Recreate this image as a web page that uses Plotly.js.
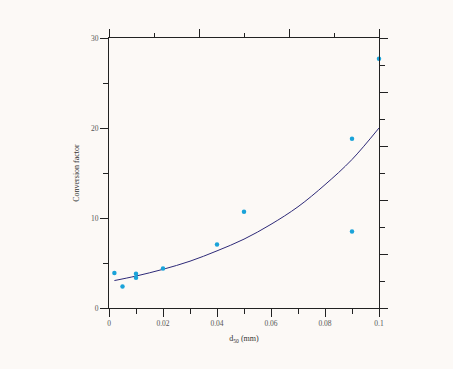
<!DOCTYPE html>
<html>
<head>
<meta charset="utf-8">
<script src="https://cdn.plot.ly/plotly-3.0.1.min.js"></script>
<style>html,body{margin:0;padding:0;background:#fcf9f6;}</style>
</head>
<body>
<div id="chart" style="width:453px;height:369px;"></div>
<script>
// Measured points: d50 (mm) vs conversion factor
const d50 = [0.002, 0.005, 0.01, 0.01, 0.02, 0.04, 0.05, 0.09, 0.09, 0.1];
const factor = [3.9, 2.4, 3.8, 3.35, 4.4, 7.05, 10.7, 18.8, 8.5, 27.7];

// Fitted curve
const curveX = [0.002, 0.01, 0.02, 0.03, 0.04, 0.05, 0.06, 0.07, 0.08, 0.09, 0.1];
const curveY = [3.05, 3.55, 4.3, 5.2, 6.35, 7.65, 9.3, 11.25, 13.7, 16.5, 20.0];

const xRange = [0, 0.1];
const yRange = [0, 30];

const axisColor = '#222';
const tickFont = {family: 'Liberation Serif, Times New Roman, serif', size: 7.5, color: '#555'};
const titleFont = {family: 'Liberation Serif, Times New Roman, serif', size: 8, color: '#333'};

const traces = [
  {
    x: curveX, y: curveY, type: 'scatter', mode: 'lines',
    line: {color: '#2e2a78', width: 1, shape: 'spline'},
    hoverinfo: 'skip', showlegend: false
  },
  {
    x: d50, y: factor, type: 'scatter', mode: 'markers',
    marker: {color: '#1aa3d9', size: 4.5},
    showlegend: false, cliponaxis: false
  },
  // empty trace so that the top/right frame axes are drawn
  {
    x: [null], y: [null], type: 'scatter', mode: 'markers',
    xaxis: 'x2', yaxis: 'y2', showlegend: false, hoverinfo: 'skip'
  }
];

const layout = {
  width: 453, height: 369,
  margin: {l: 109, r: 74, t: 38, b: 61},
  paper_bgcolor: '#fcf9f6',
  plot_bgcolor: '#fcf9f6',
  showlegend: false,
  xaxis: {
    range: xRange, dtick: 0.02, tick0: 0,
    ticks: 'outside', ticklen: 8, tickwidth: 1, tickcolor: axisColor,
    minor: {dtick: 0.01, ticks: 'outside', ticklen: 5, tickwidth: 1, tickcolor: axisColor, showgrid: false},
    showline: true, linecolor: axisColor, linewidth: 1,
    showgrid: false, zeroline: false, tickfont: tickFont,
    title: {text: 'd<sub>50</sub> (mm)', font: titleFont, standoff: 8}
  },
  yaxis: {
    range: yRange, dtick: 10, tick0: 0,
    ticks: 'outside', ticklen: 8, tickwidth: 1, tickcolor: axisColor,
    minor: {dtick: 5, ticks: 'outside', ticklen: 5, tickwidth: 1, tickcolor: axisColor, showgrid: false},
    showline: true, linecolor: axisColor, linewidth: 1,
    showgrid: false, zeroline: false, tickfont: tickFont,
    title: {text: 'Conversion factor', font: titleFont, standoff: 10}
  },
  xaxis2: {
    overlaying: 'x', side: 'top', anchor: 'y2', range: [0, 6], dtick: 2, tick0: 0,
    ticks: 'outside', ticklen: 8, tickwidth: 1, tickcolor: axisColor,
    minor: {dtick: 1, ticks: 'outside', ticklen: 4.5, tickwidth: 1, tickcolor: axisColor, showgrid: false},
    showline: true, linecolor: axisColor, linewidth: 1,
    showticklabels: false, showgrid: false, zeroline: false, fixedrange: true
  },
  yaxis2: {
    overlaying: 'y', side: 'right', anchor: 'x2', range: [0, 10], dtick: 2, tick0: 0,
    ticks: 'outside', ticklen: 8, tickwidth: 1, tickcolor: axisColor,
    minor: {dtick: 1, ticks: 'outside', ticklen: 5, tickwidth: 1, tickcolor: axisColor, showgrid: false},
    showline: true, linecolor: axisColor, linewidth: 1,
    showticklabels: false, showgrid: false, zeroline: false, fixedrange: true
  }
};

Plotly.newPlot('chart', traces, layout, {displayModeBar: false, staticPlot: true});
</script>
</body>
</html>
